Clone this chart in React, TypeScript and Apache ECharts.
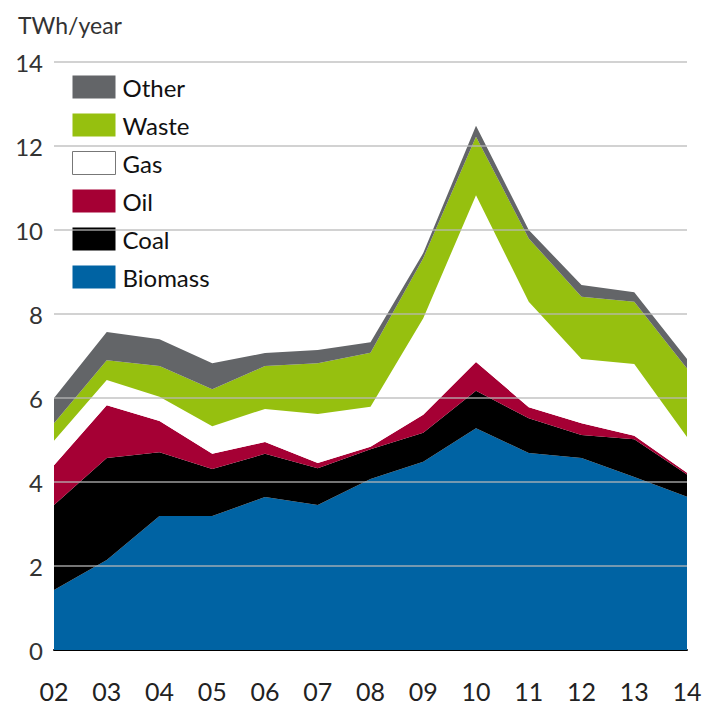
import React, { useEffect, useRef } from "react";
import * as echarts from "echarts";

const categories = ["02", "03", "04", "05", "06", "07", "08", "09", "10", "11", "12", "13", "14"];
const biomass = [1.43, 2.14, 3.19, 3.19, 3.64, 3.45, 4.07, 4.48, 5.28, 4.69, 4.57, 4.12, 3.65];
const coal = [2.02, 2.43, 1.52, 1.12, 1.03, 0.88, 0.71, 0.69, 0.89, 0.83, 0.55, 0.9, 0.53];
const oil = [0.95, 1.26, 0.74, 0.36, 0.28, 0.12, 0.06, 0.43, 0.69, 0.26, 0.28, 0.08, 0.04];
const gas = [0.58, 0.6, 0.58, 0.66, 0.79, 1.17, 0.95, 2.3, 3.97, 2.51, 1.53, 1.71, 0.85];
const waste = [0.42, 0.47, 0.73, 0.88, 1.02, 1.21, 1.29, 1.43, 1.39, 1.51, 1.48, 1.48, 1.63];
const other = [0.6, 0.67, 0.64, 0.62, 0.31, 0.31, 0.25, 0.12, 0.26, 0.2, 0.28, 0.23, 0.23];
const gridValues = [2, 4, 6, 8, 10, 12, 14];

const FONT = "Lato, 'DejaVu Sans', sans-serif";

export default function App() {
  const ref = useRef<HTMLDivElement>(null);
  useEffect(() => {
    if (!ref.current) return;
    const chart = echarts.init(ref.current, undefined, { renderer: "svg" });
    const mk = (name: string, data: number[], color: string, extra: any = {}) => ({
      name,
      type: "line",
      stack: "total",
      data,
      symbol: "none",
      showSymbol: false,
      lineStyle: { width: 0, color },
      itemStyle: { color },
      areaStyle: { color, opacity: 1 },
      ...extra,
    });
    chart.setOption({
      animation: false,
      textStyle: { fontFamily: FONT },
      title: {
        text: "TWh/year",
        left: 13,
        top: 8,
        textStyle: { fontFamily: FONT, fontSize: 23, fontWeight: "normal", color: "#333" },
      },
      legend: {
        orient: "vertical",
        left: 67,
        top: 70,
        itemWidth: 43,
        itemHeight: 23,
        itemGap: 14,
        icon: "rect",
        textStyle: { fontFamily: FONT, fontSize: 24, color: "#111", padding: [0, 0, 0, 2] },
        data: [
          { name: "Other" },
          { name: "Waste" },
          { name: "Gas", itemStyle: { color: "#fff", borderColor: "#777", borderWidth: 1 } },
          { name: "Oil" },
          { name: "Coal" },
          { name: "Biomass" },
        ],
      },
      grid: { left: 54, right: 19, top: 62, bottom: 55, containLabel: false },
      xAxis: {
        type: "category",
        data: categories,
        boundaryGap: false,
        axisTick: { show: false },
        axisLine: { show: true, lineStyle: { color: "#000", width: 2 } },
        axisLabel: { fontFamily: FONT, fontSize: 25, color: "#222", margin: 28 },
        splitLine: { show: false },
      },
      yAxis: {
        type: "value",
        min: 0,
        max: 14,
        interval: 2,
        axisLine: { show: false },
        axisTick: { show: false },
        splitLine: { show: false },
        axisLabel: { fontFamily: FONT, fontSize: 24, color: "#333", margin: 11 },
      },
      series: [
        mk("Biomass", biomass, "#0063a3", {
          markLine: {
            silent: true,
            symbol: "none",
            label: { show: false },
            lineStyle: { color: "rgba(185,185,185,0.85)", width: 1.5, type: "solid" },
            data: gridValues.map((v) => ({ yAxis: v })),
            z: 10,
          },
        }),
        mk("Coal", coal, "#000000"),
        mk("Oil", oil, "#a50034"),
        mk("Gas", gas, "#ffffff"),
        mk("Waste", waste, "#96c00f"),
        mk("Other", other, "#636568"),
      ],
    });
    return () => chart.dispose();
  }, []);
  return <div ref={ref} style={{ width: 706, height: 705, position: "absolute", left: 0, top: 0 }} />;
}
